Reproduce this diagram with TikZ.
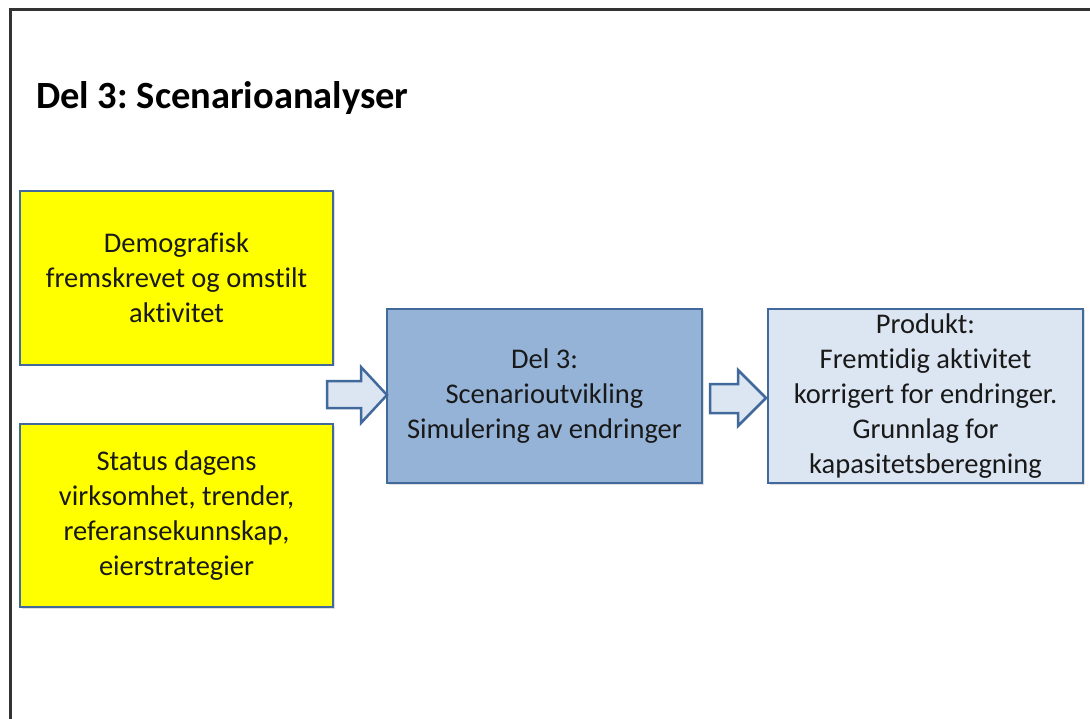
\documentclass[tikz,border=0pt]{standalone}
\usepackage{fontspec}
\setmainfont{Carlito}[RawFeature=-liga]
\frenchspacing
\usetikzlibrary{shadows}
\definecolor{edgeblue}{HTML}{41699B}
\definecolor{midfill}{HTML}{95B3D7}
\definecolor{lightfill}{HTML}{DCE6F2}
\definecolor{boxyellow}{HTML}{FFFF00}
\begin{document}
\begin{tikzpicture}[x=1pt,y=-1pt,
  bodytext/.style={font=\fontsize{28.5}{34.8}\selectfont, align=center, text=black!90},
  flowbox/.style={bodytext, draw=edgeblue, line width=2.5pt, inner sep=0pt,
    drop shadow={opacity=0.25, shadow xshift=1.5pt, shadow yshift=-1.5pt}},
  blockarrow/.style={draw=edgeblue, fill=lightfill, line width=2.5pt, line join=miter}]
  \useasboundingbox (0,0) rectangle (1090,719);
  % outer frame
  \draw[line width=3pt, black!80] (10,722) -- (10,10) -- (1093,10);
  % heading
  \node[anchor=base west, inner sep=0pt, font=\fontsize{38.5}{46}\selectfont\bfseries] (title) at (36,109) {Del 3: Scenarioanalyser};
  % input boxes
  \node[flowbox, fill=boxyellow, minimum width=313pt, minimum height=174pt] (demo) at (176.5,278)
    {Demografisk\\fremskrevet og omstilt\\aktivitet};
  \node[flowbox, fill=boxyellow, minimum width=313pt, minimum height=183pt] (status) at (176.5,515.5)
    {Status dagens\\virksomhet, trender,\\referansekunnskap,\\eierstrategier};
  % scenario box
  \node[flowbox, fill=midfill, minimum width=315pt, minimum height=174pt] (scen) at (544.5,396)
    {Del 3:\\Scenarioutvikling\\Simulering av endringer};
  % product box
  \node[flowbox, fill=lightfill, minimum width=315pt, minimum height=174pt] (prod) at (925.5,396)
    {Produkt:\\Fremtidig aktivitet\\korrigert for endringer.\\Grunnlag for\\kapasitetsberegning};
  % block arrows
  \draw[blockarrow] (327,381) -- (361,381) -- (361,367) -- (387,395) -- (361,423) -- (361,408) -- (327,408) -- cycle;
  \draw[blockarrow] (710,384) -- (738,384) -- (738,370) -- (766,398) -- (738,426) -- (738,413) -- (710,413) -- cycle;
\end{tikzpicture}
\end{document}
